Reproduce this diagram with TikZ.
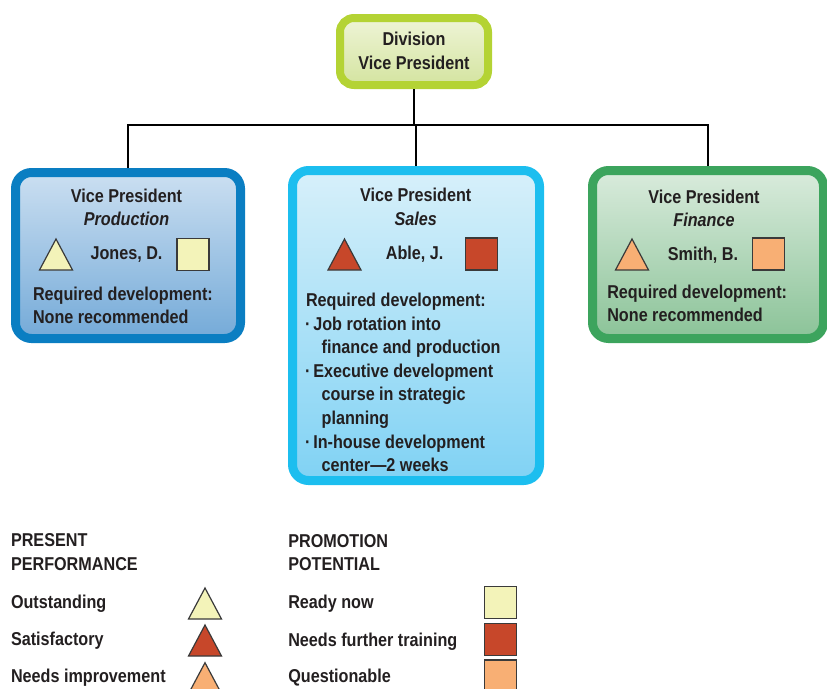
\documentclass[tikz,border=0pt]{standalone}
\usepackage{fontspec}
\setmainfont{Liberation Sans}[FakeStretch=0.87]
\definecolor{txt}{HTML}{231F20}
\definecolor{outl}{HTML}{3A3A3A}
\definecolor{limeB}{HTML}{B4D334}
\definecolor{limeT}{HTML}{EEF4D6}
\definecolor{limeL}{HTML}{D4E4A0}
\definecolor{blueB}{HTML}{0A7EC2}
\definecolor{blueT}{HTML}{CBDFF1}
\definecolor{blueL}{HTML}{74AAD8}
\definecolor{cyanB}{HTML}{1CBEEF}
\definecolor{cyanT}{HTML}{D7F0FA}
\definecolor{cyanL}{HTML}{80D2F4}
\definecolor{grnB}{HTML}{3CA45D}
\definecolor{grnT}{HTML}{D9EBDC}
\definecolor{grnL}{HTML}{8BC398}
\definecolor{cYel}{HTML}{F3F3B9}
\definecolor{cRed}{HTML}{C7472A}
\definecolor{cOra}{HTML}{F8AF74}
\begin{document}
\begin{tikzpicture}[x=1pt,y=-1pt,
  every node/.style={inner sep=0pt,outer sep=0pt,text=txt,font=\fontsize{18.6}{23.5}\selectfont\bfseries},
  box/.style={rectangle,rounded corners=16pt,line width=9pt,outer sep=4.5pt},
  lab/.style={anchor=base},
  labw/.style={anchor=base west},
  sq/.style={rectangle,draw=outl,line width=1.2pt,minimum size=32pt},
  conn/.style={draw=black,line width=2pt},
  tri/.pic={\path[pic actions] (-16.5,15.5) -- (16.5,15.5) -- (0,-15.5) -- cycle;}
]
\useasboundingbox (0,0) rectangle (827,688);

% boxes
\node[box,rounded corners=14pt,line width=8pt,outer sep=4pt,draw=limeB,top color=limeT,bottom color=limeL,minimum width=148pt,minimum height=67pt] (dvp) at (414,51.5) {};
\node[box,draw=blueB,top color=blueT,bottom color=blueL,minimum width=225pt,minimum height=166pt] (prod) at (128,255.5) {};
\node[box,draw=cyanB,top color=cyanT,bottom color=cyanL,minimum width=247pt,minimum height=310pt] (sales) at (416,325.5) {};
\node[box,draw=grnB,top color=grnT,bottom color=grnL,minimum width=231pt,minimum height=168pt] (fin) at (708,254.5) {};

% connectors
\coordinate (bus) at (414,125);
\draw[conn] (dvp.south) -- (bus);
\draw[conn] (prod.north) |- (bus) -| (fin.north);
\draw[conn] (sales.north) -- (sales.north |- bus);

% top box text
\node[lab] (t1) at (414,45.7) {Division};
\node[lab] (t2) at (414,69.3) {Vice President};

% production
\node[lab] (p1) at (126.5,202) {Vice President};
\node[lab] (p2) at (126.5,225.7) {\itshape Production};
\node[lab] (p3) at (126.5,259) {Jones, D.};
\pic[draw=outl,line width=1.2pt,fill=cYel] at (56,254.5) {tri};
\node[sq,fill=cYel] (psq) at (193,254.5) {};
\node[labw] (p4) at (33,300) {Required development:};
\node[labw] (p5) at (33,323.3) {None recommended};

% sales
\node[lab] (s1) at (415.7,201.7) {Vice President};
\node[lab] (s2) at (415.7,225.7) {\itshape Sales};
\node[lab] (s3) at (414.7,259) {Able, J.};
\pic[draw=outl,line width=1.2pt,fill=cRed] at (344.5,254.5) {tri};
\node[sq,fill=cRed] (ssq) at (481.7,254) {};
\node[labw] (s4) at (306,306.7) {Required development:};
\node[labw] (b1) at (305,330) {·};
\node[labw] (s5) at (313.3,330) {Job rotation into};
\node[labw] (s6) at (321.7,353.5) {finance and production};
\node[labw] (b2) at (305,377) {·};
\node[labw] (s7) at (313.3,377) {Executive development};
\node[labw] (s8) at (321.7,400.6) {course in strategic};
\node[labw] (s9) at (321.7,424.2) {planning};
\node[labw] (b3) at (305,448) {·};
\node[labw] (s10) at (313.3,448) {In-house development};
\node[labw] (s11) at (321.7,471.8) {center—2 weeks};

% finance
\node[lab] (f1) at (704,203.3) {Vice President};
\node[lab] (f2) at (704,226.7) {\itshape Finance};
\node[lab] (f3) at (703,260) {Smith, B.};
\pic[draw=outl,line width=1.2pt,fill=cOra] at (632,254.5) {tri};
\node[sq,fill=cOra] (fsq) at (768.7,254) {};
\node[labw] (f4) at (607.3,298.3) {Required development:};
\node[labw] (f5) at (607.3,321.7) {None recommended};

% legend left
\node[labw] (l1) at (11,546.7) {PRESENT};
\node[labw] (l2) at (11,570.7) {PERFORMANCE};
\node[labw] (l3) at (11,608.3) {Outstanding};
\node[labw] (l4) at (11,645) {Satisfactory};
\node[labw] (l5) at (11,682.3) {Needs improvement};
\pic[draw=outl,line width=1.2pt,fill=cYel] at (205,603.5) {tri};
\pic[draw=outl,line width=1.2pt,fill=cRed] at (205,640.5) {tri};
\pic[draw=outl,line width=1.2pt,fill=cOra] at (205,678.2) {tri};

% legend right
\node[labw] (r1) at (288.3,547.3) {PROMOTION};
\node[labw] (r2) at (288.3,570.7) {POTENTIAL};
\node[labw] (r3) at (288.3,608.3) {Ready now};
\node[labw] (r4) at (288.3,646) {Needs further training};
\node[labw] (r5) at (288.3,682) {Questionable};
\node[sq,fill=cYel] (q1) at (500.5,602.3) {};
\node[sq,fill=cRed] (q2) at (500.5,639.3) {};
\node[sq,fill=cOra] (q3) at (500.5,676) {};
\end{tikzpicture}
\end{document}
